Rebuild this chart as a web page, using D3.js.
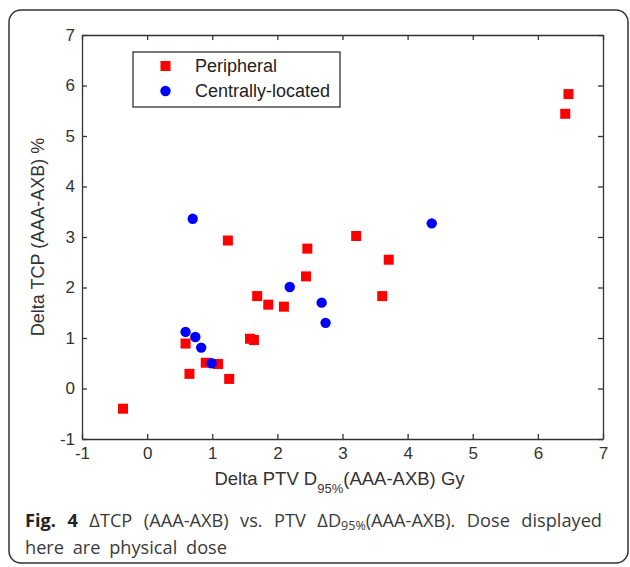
<!DOCTYPE html>
<html>
<head>
<meta charset="utf-8">
<script src="https://cdn.jsdelivr.net/npm/d3@7"></script>
<style>
  body { margin: 0; background: #fff; }
  svg text { font-family: "Liberation Sans", Arial, sans-serif; }
  .caption { font-family: "Open Sans", "Noto Sans", sans-serif; fill: #3a3a3a; }
</style>
</head>
<body>
<div id="chart"></div>
<script>
/* DATA */
// peripheral lesions (red squares): delta D95% (Gy), delta TCP (%)
const periX = [6.47, 6.42, 3.21, 3.71, 3.61, 1.24, 2.46, 2.44, 1.69, 1.86, 2.10, 0.59, 1.58, 1.64, 0.90, 1.09, 0.65, 1.26, -0.37];
const periY = [5.83, 5.44, 3.02, 2.55, 1.83, 2.93, 2.77, 2.22, 1.83, 1.66, 1.62, 0.89, 0.985, 0.96, 0.51, 0.485, 0.29, 0.19, -0.40];
// centrally-located lesions (blue circles)
const centX = [0.70, 2.19, 2.68, 2.74, 0.59, 0.74, 0.83, 0.99, 4.37];
const centY = [3.36, 2.01, 1.70, 1.30, 1.12, 1.02, 0.81, 0.50, 3.27];
const xTicks = [-1, 0, 1, 2, 3, 4, 5, 6, 7];
const yTicks = [-1, 0, 1, 2, 3, 4, 5, 6, 7];
const seriesNames = ["Peripheral", "Centrally-located"];

const width = 630, height = 567;
const margin = { top: 35, bottom: 128, left: 82, right: 27 };

const svg = d3.select("#chart").append("svg")
  .attr("width", width)
  .attr("height", height);

// outer figure frame
svg.append("rect")
  .attr("x", 9).attr("y", 10)
  .attr("width", 619).attr("height", 553)
  .attr("rx", 12)
  .attr("fill", "none")
  .attr("stroke", "#333")
  .attr("stroke-width", 1.5);

// SCALES
const xScale = d3.scaleLinear().domain([-1, 7]).range([margin.left, width - margin.right]);
const yScale = d3.scaleLinear().domain([-1, 7]).range([height - margin.bottom, margin.top]);

// AXES (matlab style: ticks inside, box all round)
const tick = 5;
const fmt = d => String(d); // plain hyphen for negatives

svg.append("g")
  .attr("class", "xAxis")
  .attr("transform", `translate(0,${yScale(-1)})`)
  .call(d3.axisBottom(xScale).tickValues(xTicks).tickFormat(fmt).tickSizeInner(-tick).tickSizeOuter(0).tickPadding(8))
  .call(g => g.selectAll("text").attr("font-size", 17).attr("fill", "#333"));

svg.append("g")
  .attr("transform", `translate(0,${yScale(7)})`)
  .call(d3.axisTop(xScale).tickValues(xTicks).tickSizeInner(-tick).tickSizeOuter(0))
  .call(g => g.selectAll("text").remove());

svg.append("g")
  .attr("class", "yAxis")
  .attr("transform", `translate(${xScale(-1)},0)`)
  .call(d3.axisLeft(yScale).tickValues(yTicks).tickFormat(fmt).tickSizeInner(-tick).tickSizeOuter(0).tickPadding(7))
  .call(g => g.selectAll("text").attr("font-size", 17).attr("fill", "#333"));

svg.append("g")
  .attr("transform", `translate(${xScale(7)},0)`)
  .call(d3.axisRight(yScale).tickValues(yTicks).tickSizeInner(-tick).tickSizeOuter(0))
  .call(g => g.selectAll("text").remove());

svg.selectAll(".domain, .tick line").attr("stroke", "#333").attr("stroke-width", 1.3);

// axis titles
const xt = svg.append("text")
  .attr("x", (xScale(-1) + xScale(7)) / 2 - 3)
  .attr("y", 485)
  .attr("text-anchor", "middle")
  .attr("font-size", 18.5)
  .attr("fill", "#333");
xt.append("tspan").text("Delta PTV D");
xt.append("tspan").attr("font-size", 13).attr("dy", 8).text("95%");
xt.append("tspan").attr("dy", -8).text("(AAA-AXB) Gy");

svg.append("text")
  .attr("transform", `translate(44,${(yScale(-1) + yScale(7)) / 2}) rotate(-90)`)
  .attr("text-anchor", "middle")
  .attr("font-size", 18)
  .attr("fill", "#333")
  .text("Delta TCP (AAA-AXB) %");

// POINTS
const peri = periX.map((x, i) => ({ x: x, y: periY[i] }));
const cent = centX.map((x, i) => ({ x: x, y: centY[i] }));
const sq = 10;

svg.selectAll("rect.peri")
  .data(peri)
  .join("rect")
  .attr("class", "peri")
  .attr("x", d => xScale(d.x) - sq / 2)
  .attr("y", d => yScale(d.y) - sq / 2)
  .attr("width", sq).attr("height", sq)
  .attr("fill", "#ff0000");

svg.selectAll("circle.cent")
  .data(cent)
  .join("circle")
  .attr("class", "cent")
  .attr("cx", d => xScale(d.x))
  .attr("cy", d => yScale(d.y))
  .attr("r", 5.2)
  .attr("fill", "#0000ff");

// LEGEND
const lg = svg.append("g");
lg.append("rect")
  .attr("x", 133).attr("y", 52)
  .attr("width", 207).attr("height", 55)
  .attr("fill", "#fff")
  .attr("stroke", "#333").attr("stroke-width", 1.3);
lg.append("rect")
  .attr("x", 165.5 - sq / 2).attr("y", 66 - sq / 2)
  .attr("width", sq).attr("height", sq)
  .attr("fill", "#ff0000");
lg.append("circle")
  .attr("cx", 165.5).attr("cy", 91).attr("r", 5.2)
  .attr("fill", "#0000ff");
lg.selectAll("text")
  .data(seriesNames)
  .join("text")
  .attr("x", 195)
  .attr("y", (d, i) => 66 + i * 25)
  .attr("dy", "0.35em")
  .attr("font-size", 18)
  .attr("fill", "#222")
  .text(d => d);

// CAPTION
const cap1 = svg.append("text").attr("class", "caption")
  .attr("x", 25).attr("y", 527).attr("font-size", 18.2);
cap1.append("tspan").attr("font-weight", "bold").attr("fill", "#222").text("Fig. 4");
cap1.append("tspan").text(" \u0394TCP (AAA-AXB) vs. PTV \u0394D");
cap1.append("tspan").attr("font-size", 12.5).attr("dy", 3).text("95%");
cap1.append("tspan").attr("dy", -3).text("(AAA-AXB). Dose displayed");

// justify the first line between the left margin and 602
const natural = cap1.node().getComputedTextLength();
const gaps = (cap1.text().match(/ /g) || []).length;
cap1.attr("word-spacing", Math.max(0, (602 - 25 - natural) / gaps));

svg.append("text").attr("class", "caption")
  .attr("x", 25).attr("y", 554).attr("font-size", 18.2)
  .attr("word-spacing", 4)
  .text("here are physical dose");
</script>
</body>
</html>
